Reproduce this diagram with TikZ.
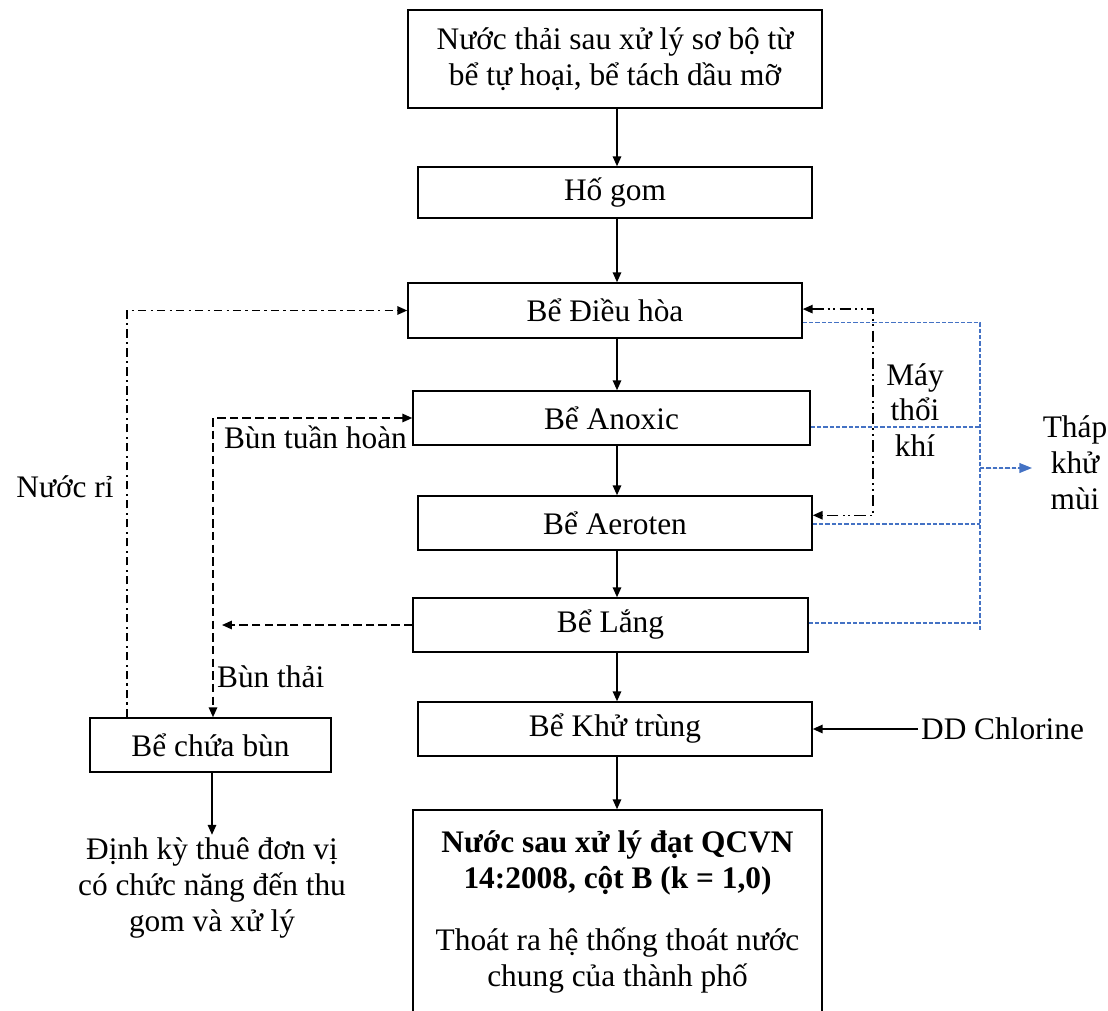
\documentclass[tikz,border=0pt]{standalone}
\usepackage{fontspec}
\setmainfont{Liberation Serif}
\usetikzlibrary{arrows.meta}
\definecolor{xanh}{HTML}{4472C4}
\newdimen\donvi \donvi=0.025cm
\tikzset{
  hop/.style={draw,line width=1.1pt,align=center,inner sep=2pt},
  chu/.style={align=center,inner sep=2pt},
  bun/.style={line width=1.1pt,dash pattern=on 6pt off 3pt},
  nuocri/.style={line width=1pt,dash pattern=on 6pt off 3pt on 1.5pt off 3pt},
  maythoi/.style={line width=1pt,dash pattern=on 8pt off 3pt on 1.5pt off 2.5pt on 1.5pt off 3pt},
  khumui/.style={draw=xanh,line width=1pt,dash pattern=on 3pt off 1.5pt},
}
\begin{document}
\begin{tikzpicture}[x=0.025cm,y=-0.025cm,>={Triangle[length=7pt,width=6pt]},
  font=\fontsize{22.3}{25.5}\selectfont]
   \useasboundingbox (0,0) rectangle (1108,1010);
   \coordinate (truc) at (617,0);

   % Dây chuyền chính
   \node[hop,minimum width=414\donvi,minimum height=98\donvi] (dau) at (615,59)
      {Nước thải sau xử lý sơ bộ từ\\bể tự hoại, bể tách dầu mỡ};
   \node[hop,minimum width=394\donvi,minimum height=51\donvi] (hogom) at (615,192.5) {Hố gom};
   \node[hop,minimum width=394\donvi,minimum height=55\donvi] (dieuhoa) at (605,310.5) {Bể Điều hòa};
   \node[hop,minimum width=397\donvi,minimum height=54\donvi] (anoxic) at (611.5,418) {Bể Anoxic};
   \node[hop,minimum width=394\donvi,minimum height=54\donvi] (aeroten) at (615,523) {Bể Aeroten};
   \node[hop,minimum width=395\donvi,minimum height=54\donvi] (lang) at (610.5,625) {Bể Lắng};
   \node[hop,minimum width=394\donvi,minimum height=54\donvi] (khutrung) at (615,729) {Bể Khử trùng};
   \node[hop,minimum width=409\donvi,minimum height=204\donvi] (dat) at (617.5,912)
      {\textbf{Nước sau xử lý đạt QCVN}\\\textbf{14:2008, cột B (k = 1,0)}\\[19pt]
       Thoát ra hệ thống thoát nước\\chung của thành phố};

   \draw[->,line width=1.1pt] (dau.south -| truc) -- (hogom.north -| truc);
   \draw[->,line width=1.1pt] (hogom.south -| truc) -- (dieuhoa.north -| truc);
   \draw[->,line width=1.1pt] (dieuhoa.south -| truc) -- (anoxic.north -| truc);
   \draw[->,line width=1.1pt] (anoxic.south -| truc) -- (aeroten.north -| truc);
   \draw[->,line width=1.1pt] (aeroten.south -| truc) -- (lang.north -| truc);
   \draw[->,line width=1.1pt] (lang.south -| truc) -- (khutrung.north -| truc);
   \draw[->,line width=1.1pt] (khutrung.south -| truc) -- (dat.north -| truc);

   % Xử lý bùn
   \node[hop,minimum width=241\donvi,minimum height=54\donvi] (chuabun) at (210.5,745) {Bể chứa bùn};
   \node[chu] (dinhky) at (212,888) {Định kỳ thuê đơn vị\\có chức năng đến thu\\gom và xử lý};
   \draw[->,line width=1.1pt] (chuabun.south -| 212,0) -- (dinhky.north -| 212,0);

   \coordinate (bt) at (213,0);
   \coordinate (nr) at (127,0);
   \coordinate (dauten) at (222,0);
   \draw[bun,<->] (anoxic.west) -| (bt |- chuabun.north);
   \draw[bun,->] (lang.west) -- (lang.west -| dauten);
   \node[chu,anchor=east] (tuanhoan) at (410,437) {Bùn tuần hoàn};
   \node[chu,anchor=west] (thai) at (214,677) {Bùn thải};

   \draw[nuocri,->] (nr |- chuabun.north) |- (dieuhoa.west);
   \node[chu] (nuocrilbl) at (65,487) {Nước rỉ};

   % Máy thổi khí
   \coordinate (mtk) at (873,415);
   \draw[maythoi,<->] ([yshift=1pt]dieuhoa.east) -| (mtk) |- ([yshift=5.5pt]aeroten.east);
   \node[chu] (maythoilbl) at (915,410) {Máy\\thổi\\khí};

   % Thu khí về tháp khử mùi
   \coordinate (gop) at (980,632);
   \path ([yshift=-8.5pt]dieuhoa.east) coordinate (ra1)
         ([yshift=-6.5pt]anoxic.east) coordinate (ra2)
         ([yshift=-0.7pt]aeroten.east) coordinate (ra3)
         ([yshift=1.4pt]lang.east) coordinate (ra4);
   \draw[khumui] (ra1) -| (gop);
   \draw[khumui] (ra2) -- (ra2 -| gop);
   \draw[khumui] (ra3) -- (ra3 -| gop);
   \draw[khumui] (ra4) -- (ra4 -| gop);
   \node[chu] (thap) at (1075,463) {Tháp\\khử\\mùi};
   \coordinate (vaothap) at (1032,468);
   \draw[khumui,-{Triangle[length=9pt,width=7pt]},fill=xanh] (gop |- vaothap) -- (vaothap);

   % Hóa chất khử trùng
   \node[chu,anchor=west] (clo) at (918,729) {DD Chlorine};
   \draw[->,line width=1.1pt] (clo.west) -- (khutrung.east);
\end{tikzpicture}
\end{document}
